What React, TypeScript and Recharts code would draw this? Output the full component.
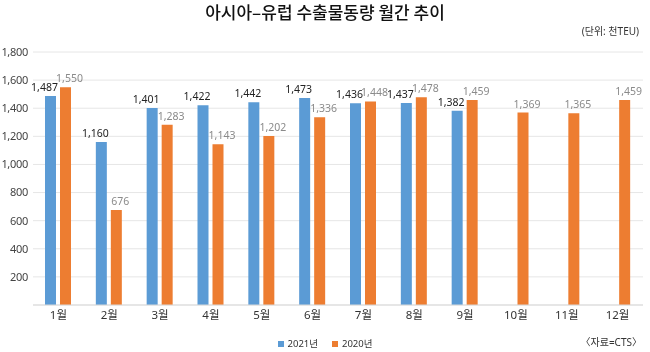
import React from 'react';
import { BarChart, Bar, XAxis, YAxis, CartesianGrid, LabelList } from 'recharts';

const months = ['1월', '2월', '3월', '4월', '5월', '6월', '7월', '8월', '9월', '10월', '11월', '12월'];
const y2021 = [1487, 1160, 1401, 1422, 1442, 1473, 1436, 1437, 1382, null, null, null];
const y2020 = [1550, 676, 1283, 1143, 1202, 1336, 1448, 1478, 1459, 1369, 1365, 1459];
const yTicks = [0, 200, 400, 600, 800, 1000, 1200, 1400, 1600, 1800];

const FONT = '"Noto Sans", "Noto Sans CJK KR", sans-serif';
const BLUE = '#5B9BD5';
const ORANGE = '#ED7D31';

const data = months.map((m, i) => ({ month: m, a: y2021[i], b: y2020[i] }));

const fmt = (v: any) => (v == null ? '' : Number(v).toLocaleString('en-US'));

const makeLabel = (dx: number, color: string) => (props: any) => {
  const { x, y, width, value } = props;
  if (value == null) return null;
  return (
    <text x={x + width / 2 + dx} y={y - 5} textAnchor="middle" fill={color} fontSize={10.5} fontFamily={FONT}>
      {fmt(value)}
    </text>
  );
};

export default function App() {
  return (
    <div style={{ position: 'fixed', left: 0, top: 0, width: 650, height: 352, background: '#fff', fontFamily: FONT }}>
      <div style={{ position: 'absolute', top: 0, left: 0, width: 650, textAlign: 'center', fontSize: 17, fontWeight: 500, color: '#111', lineHeight: '24px', fontFamily: '"Noto Sans CJK KR", sans-serif' }}>
        아시아–유럽 수출물동량 월간 추이
      </div>
      <div style={{ position: 'absolute', top: 22, right: 11, fontSize: 10, color: '#333', lineHeight: '18px' }}>
        (단위: 천TEU)
      </div>
      <div style={{ position: 'absolute', top: 333, right: 8, fontSize: 10, color: '#333', lineHeight: '18px' }}>
        〈자료=CTS〉
      </div>
      <div style={{ position: 'absolute', top: 336, left: 0, width: 650, display: 'flex', justifyContent: 'center', gap: 14, fontSize: 9.5, color: '#333', lineHeight: '16px' }}>
        <span style={{ display: 'flex', alignItems: 'center', gap: 4 }}>
          <span style={{ width: 6, height: 6, background: BLUE, display: 'inline-block' }} />
          2021년
        </span>
        <span style={{ display: 'flex', alignItems: 'center', gap: 4 }}>
          <span style={{ width: 6, height: 6, background: ORANGE, display: 'inline-block' }} />
          2020년
        </span>
      </div>
      <BarChart
        width={650}
        height={352}
        data={data}
        margin={{ top: 52, right: 7, bottom: 17, left: 0 }}
        barSize={11}
        barGap={4}
        style={{ fontFamily: FONT }}
      >
        <CartesianGrid vertical={false} stroke="#e6e6e6" />
        <XAxis
          dataKey="month"
          height={30}
          tickLine={false}
          tickSize={0}
          axisLine={{ stroke: '#d9d9d9' }}
          tick={{ fill: '#333', fontSize: 11.5 }}
          tickMargin={6}
        />
        <YAxis
          domain={[0, 1800]}
          ticks={yTicks}
          width={33}
          axisLine={false}
          tickLine={false}
          tickSize={0}
          tick={{ fill: '#444', fontSize: 11, letterSpacing: -0.3 }}
          tickFormatter={(v) => (v === 0 ? '' : fmt(v))}
          tickMargin={5}
        />
        <Bar dataKey="a" name="2021년" fill={BLUE} isAnimationActive={false}>
          <LabelList dataKey="a" content={makeLabel(-6, '#222')} />
        </Bar>
        <Bar dataKey="b" name="2020년" fill={ORANGE} isAnimationActive={false}>
          <LabelList dataKey="b" content={makeLabel(4, '#8a8a8a')} />
        </Bar>
      </BarChart>
    </div>
  );
}
